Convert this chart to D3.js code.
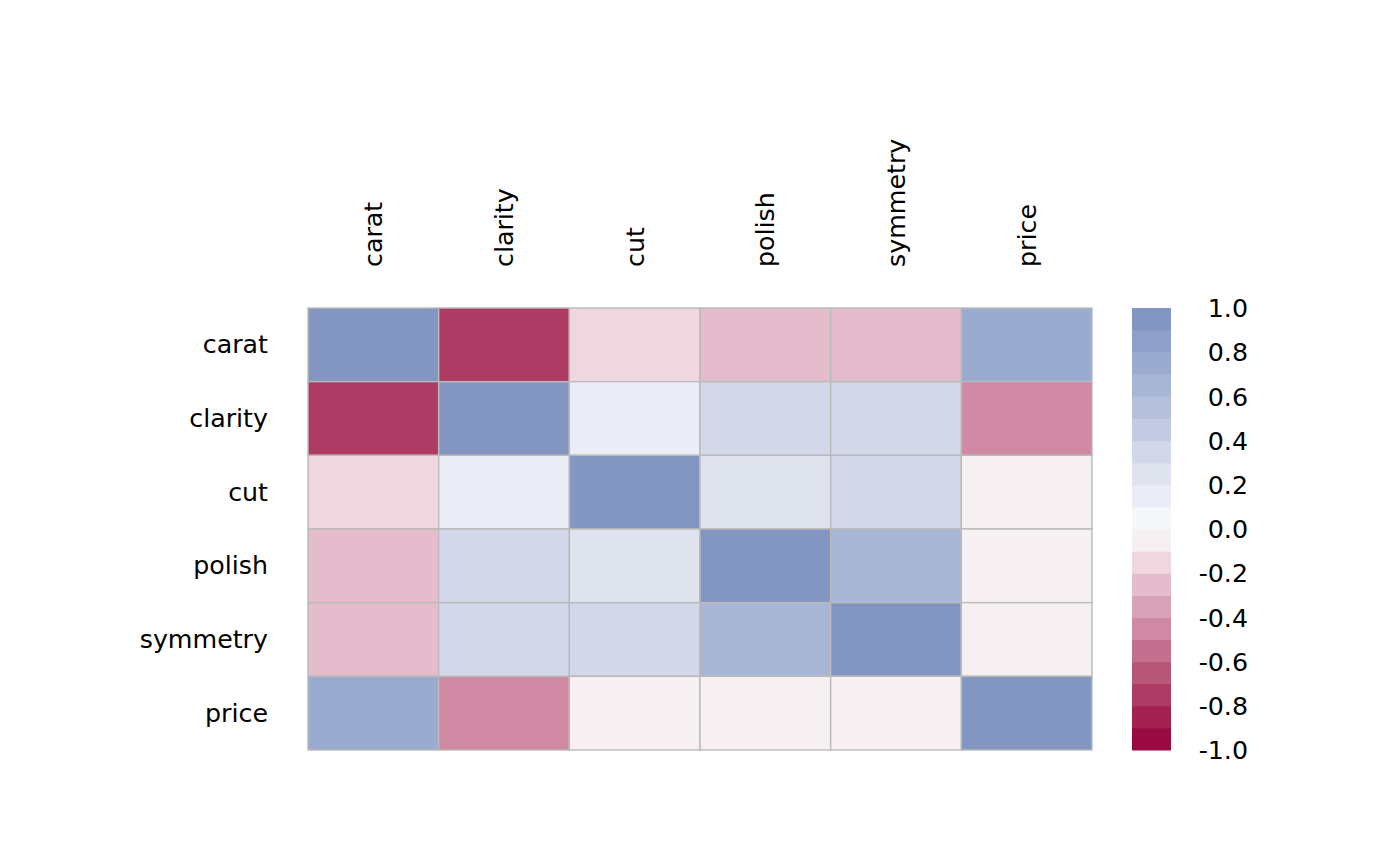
<!DOCTYPE html>
<html>
<head>
<meta charset="utf-8">
<script src="https://cdn.jsdelivr.net/npm/d3@7"></script>
<style>
  body { margin: 0; background: #fff; }
  text { font-family: "DejaVu Sans", sans-serif; fill: #000; }
</style>
</head>
<body>
<svg id="chart" width="1400" height="866"></svg>
<script>
// correlation matrix
let vars = ['carat', 'clarity', 'cut', 'polish', 'symmetry', 'price']

let corr = [
    [ 1.00, -0.75, -0.15, -0.25, -0.25,  0.75],
    [-0.75,  1.00,  0.15,  0.35,  0.35, -0.45],
    [-0.15,  0.15,  1.00,  0.25,  0.35, -0.05],
    [-0.25,  0.35,  0.25,  1.00,  0.65, -0.05],
    [-0.25,  0.35,  0.35,  0.65,  1.00, -0.05],
    [ 0.75, -0.45, -0.05, -0.05, -0.05,  1.00]
]

// 20 colour bins from -1 up to 1
let palette = [
    '#990a43', '#a32250', '#ad3b64', '#b85678', '#c36f8d',
    '#cf89a2', '#d9a3b7', '#e4bccb', '#efd7e0', '#f7f0f3',
    '#f6f7fa', '#eaedf5', '#dfe3ee', '#d2d8e9', '#c2cbe3',
    '#b4c0dc', '#a8b6d6', '#9babcf', '#8e9fca', '#8396c2'
]

let legendTicks = [-1, -0.8, -0.6, -0.4, -0.2, 0, 0.2, 0.4, 0.6, 0.8, 1]

let svg = d3.select('#chart')
let fontSize = 25.3

let x = d3.scaleBand().domain(vars).range([308, 1092])
let y = d3.scaleBand().domain(vars).range([308, 750])
let color = d3.scaleQuantize().domain([-1, 1]).range(palette)

let cells = []
corr.forEach((row, i) => row.forEach((v, j) => cells.push({r: vars[i], c: vars[j], v: v})))

svg.append('g')
    .selectAll('rect')
    .data(cells)
    .enter()
    .append('rect')
    .attr('x', d => x(d.c))
    .attr('y', d => y(d.r))
    .attr('width', x.bandwidth())
    .attr('height', y.bandwidth())
    .attr('fill', d => color(d.v))
    .attr('stroke', '#bababa')
    .attr('stroke-width', 1.4)

// row labels
svg.append('g')
    .selectAll('text')
    .data(vars)
    .enter()
    .append('text')
    .attr('x', 268)
    .attr('y', d => y(d) + y.bandwidth() / 2)
    .attr('dy', '0.33em')
    .attr('text-anchor', 'end')
    .style('font-size', fontSize + 'px')
    .text(d => d)

// column labels, rotated
svg.append('g')
    .selectAll('text')
    .data(vars)
    .enter()
    .append('text')
    .attr('transform', d => `translate(${x(d) + x.bandwidth() / 2},267) rotate(-90)`)
    .attr('dy', '0.35em')
    .attr('text-anchor', 'start')
    .style('font-size', fontSize + 'px')
    .text(d => d)

// colour legend
let ly = d3.scaleLinear().domain([-1, 1]).range([750, 308])
let step = 2 / palette.length

svg.append('g')
    .selectAll('rect')
    .data(palette)
    .enter()
    .append('rect')
    .attr('x', 1132)
    .attr('y', (d, i) => ly(-1 + (i + 1) * step))
    .attr('width', 39)
    .attr('height', (d, i) => ly(-1 + i * step) - ly(-1 + (i + 1) * step) + 0.5)
    .attr('fill', d => d)

svg.append('g')
    .selectAll('text')
    .data(legendTicks)
    .enter()
    .append('text')
    .attr('x', 1248)
    .attr('y', d => ly(d))
    .attr('dy', '0.36em')
    .attr('text-anchor', 'end')
    .style('font-size', fontSize + 'px')
    .text(d => d.toFixed(1))
</script>
</body>
</html>
